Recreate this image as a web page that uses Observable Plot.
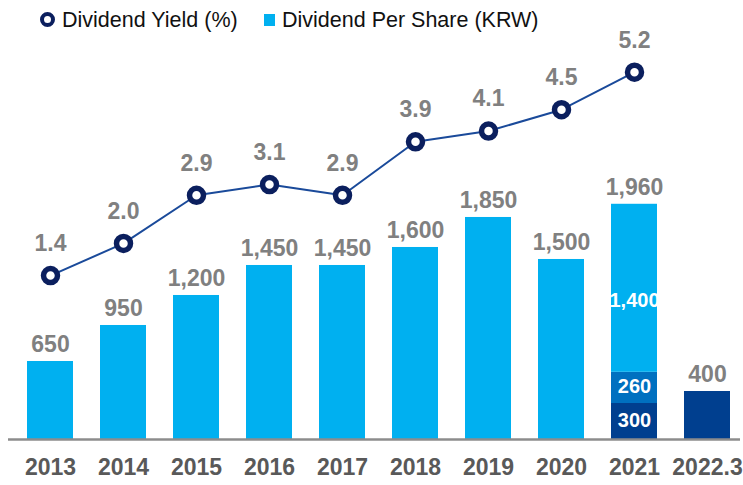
<!DOCTYPE html>
<html>
<head>
<meta charset="utf-8">
<script src="https://cdn.jsdelivr.net/npm/d3@7"></script>
<script src="https://cdn.jsdelivr.net/npm/@observablehq/plot@0.6"></script>
<style>
  html, body { margin: 0; padding: 0; background: #fff; }
  body { width: 743px; height: 485px; overflow: hidden; font-family: "Liberation Sans", Arial, sans-serif; }
  #legend { position: relative; height: 30px; width: 743px; font-size: 21.5px; color: #111; }
  #legend .item { position: absolute; top: 7px; line-height: 26px; white-space: nowrap; }
  #legend .ring { position: absolute; left: 40px; top: 12px; width: 7px; height: 7px; border: 4px solid #0b1f5e; border-radius: 50%; background: #fff; }
  #legend .sq { position: absolute; left: 264px; top: 14px; width: 11px; height: 12px; background: #00b0f0; }
</style>
</head>
<body>
<div id="legend">
  <span class="ring"></span><span class="item" style="left:62px">Dividend Yield (%)</span>
  <span class="sq"></span><span class="item" style="left:282px">Dividend Per Share (KRW)</span>
</div>
<div id="chart"></div>
<script>
// ---- data ----
const years = ["2013", "2014", "2015", "2016", "2017", "2018", "2019", "2020", "2021", "2022.3"];
const dividendPerShare = [650, 950, 1200, 1450, 1450, 1600, 1850, 1500, 1960, 400];
const yieldYears = ["2013", "2014", "2015", "2016", "2017", "2018", "2019", "2020", "2021"];
const dividendYield = [1.4, 2.0, 2.9, 3.1, 2.9, 3.9, 4.1, 4.5, 5.2];
// 2021 breakdown (bottom to top): 300, 260, 1,400 ; 2022.3: 400
const breakdown2021 = [300, 260, 1400];
const breakdownLabels2021 = ["300", "260", "1,400"];

// ---- styles ----
const cLight = "#00b0f0", cMid = "#0070c0", cDark = "#003f8f";
const font = "Liberation Sans, Arial, sans-serif";

// segment rows
const segColors = [cDark, cMid, cLight];
const rows = [];
years.forEach((y, i) => {
  if (y === "2021") {
    let acc = 0;
    breakdown2021.forEach((v, k) => {
      rows.push({year: y, y1: acc, y2: acc + v, color: segColors[k], label: breakdownLabels2021[k], k});
      acc += v;
    });
  } else {
    rows.push({year: y, y1: 0, y2: dividendPerShare[i], color: y === "2022.3" ? cDark : cLight, label: null, k: -1});
  }
});
const totals = years.map((y, i) => ({year: y, value: dividendPerShare[i]}));
const yields = yieldYears.map((y, i) => ({year: y, value: dividendYield[i]}));

// secondary scale: yield (%) expressed in the bar axis units
const yieldToY = d3.scaleLinear().domain([0, 6]).range([742, 3417]);

const innerSmall = rows.filter(d => d.k === 0 || d.k === 1);
const innerBig = rows.filter(d => d.k === 2);

const plot = Plot.plot({
  width: 743,
  height: 455,
  marginLeft: 17,
  marginRight: 3,
  marginTop: 0,
  marginBottom: 46,
  style: {fontFamily: font, background: "transparent", overflow: "visible"},
  x: {domain: years, paddingInner: 0.375, paddingOuter: 0.1, axis: null},
  y: {domain: [0, 3408], axis: null},
  color: {type: "identity"},
  marks: [
    Plot.rectY(rows, {x: "year", y1: "y1", y2: "y2", fill: "color"}),
    Plot.ruleY([0], {stroke: "#8c8c8c", strokeWidth: 2.5, insetLeft: -9}),
    // inside labels for 2021
    Plot.text(innerSmall, {
      x: "year", y: d => (d.y1 + d.y2) / 2, text: "label",
      dy: -1, fill: "white", fontWeight: "bold", fontSize: 20
    }),
    Plot.text(innerBig, {
      x: "year", y: d => (d.y1 + d.y2) / 2, text: "label",
      dy: 12, fill: "white", fontWeight: "bold", fontSize: 20, letterSpacing: "-1.8px"
    }),
    // totals
    Plot.text(totals, {
      x: "year", y: "value", text: d => d3.format(",")(d.value),
      dy: -17, fill: "#808080", fontWeight: "bold", fontSize: 23
    }),
    // yield line
    Plot.line(yields, {x: "year", y: d => yieldToY(d.value), stroke: "#1a4a9a", strokeWidth: 2}),
    Plot.dot(yields, {x: "year", y: d => yieldToY(d.value), r: 7, fill: "white", stroke: "#0b1f5e", strokeWidth: 5.5}),
    Plot.text(yields, {
      x: "year", y: d => yieldToY(d.value), text: d => d3.format(".1f")(d.value),
      dy: -32, fill: "#808080", fontWeight: "bold", fontSize: 23
    }),
    // x labels
    Plot.text(years, {
      x: d => d, frameAnchor: "bottom", dy: 35.5, text: d => d,
      fill: "#595959", fontWeight: "bold", fontSize: 23
    })
  ]
});
document.getElementById("chart").appendChild(plot);
</script>
</body>
</html>
